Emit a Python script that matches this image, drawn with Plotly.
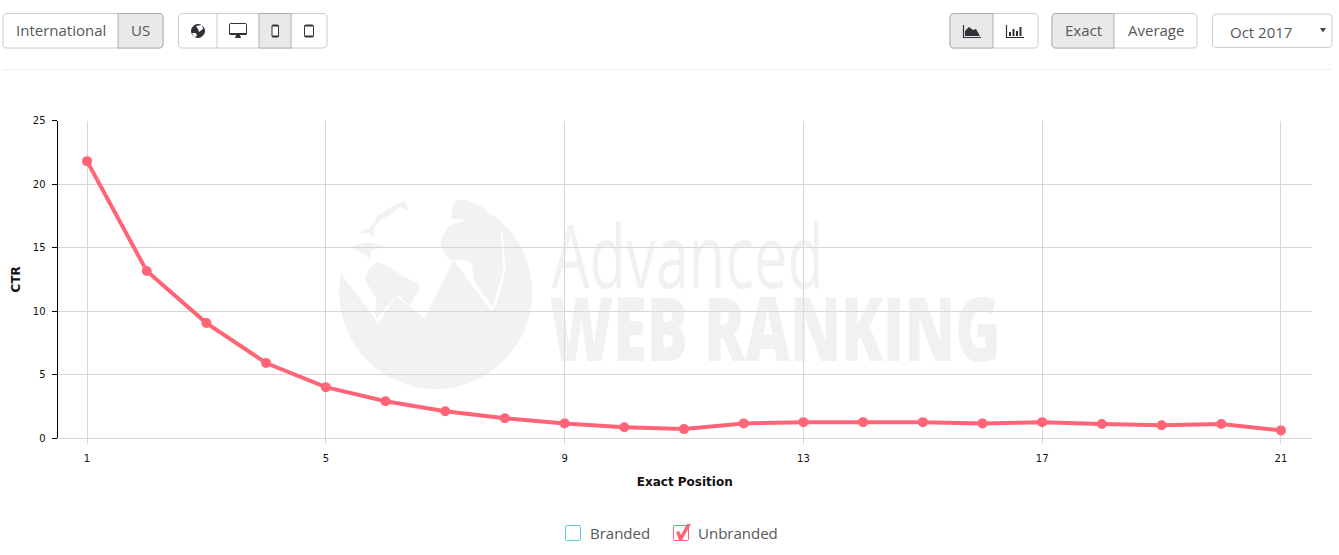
import plotly.graph_objects as go

W, H = 1339, 555

# CTR per exact position
positions = list(range(1, 22))
ctr = [21.8, 13.15, 9.05, 5.9, 4.0, 2.9, 2.1, 1.55, 1.15, 0.85, 0.7,
       1.15, 1.25, 1.25, 1.25, 1.15, 1.25, 1.1, 1.0, 1.1, 0.6]
x_ticks = [1, 5, 9, 13, 17, 21]
y_ticks = [0, 5, 10, 15, 20, 25]

RED = "#ff6577"
BLUE = "#5ccbe8"
GRID = "#d6d6d6"
TEXT = "#55595c"
DARK = "#2f3338"
WM = "#f1f2f4"
WM_TEXT = "rgba(222,224,228,0.45)"
BORDER = "#cccccc"
ACTIVE_BORDER = "#adadad"
ACTIVE_BG = "#e9e9e9"

shapes = []
annotations = []


# the whole page is laid out in pixels, paper coords are just a conversion
def px(x):
    return x / W


def py(y):
    return 1 - y / H


def path(points, fill, line=None, width=1, close=True):
    d = "M " + " L ".join(f"{px(x):.5f},{py(y):.5f}" for x, y in points)
    if close:
        d += " Z"
    shapes.append(dict(type="path", path=d, xref="paper", yref="paper", layer="below",
                       fillcolor=fill if fill else "rgba(0,0,0,0)",
                       line=dict(color=line if line else "rgba(0,0,0,0)", width=width if line else 0)))


def rect(x0, y0, x1, y1, fill, line=None, width=1):
    path([(x0, y0), (x1, y0), (x1, y1), (x0, y1)], fill, line, width)


def rrect(x0, y0, x1, y1, fill, line=None, r=4, left=True, right=True):
    rl = r if left else 0
    rr = r if right else 0
    d = (f"M {px(x0 + rl):.5f},{py(y0):.5f} L {px(x1 - rr):.5f},{py(y0):.5f} "
         f"Q {px(x1):.5f},{py(y0):.5f} {px(x1):.5f},{py(y0 + rr):.5f} "
         f"L {px(x1):.5f},{py(y1 - rr):.5f} "
         f"Q {px(x1):.5f},{py(y1):.5f} {px(x1 - rr):.5f},{py(y1):.5f} "
         f"L {px(x0 + rl):.5f},{py(y1):.5f} "
         f"Q {px(x0):.5f},{py(y1):.5f} {px(x0):.5f},{py(y1 - rl):.5f} "
         f"L {px(x0):.5f},{py(y0 + rl):.5f} "
         f"Q {px(x0):.5f},{py(y0):.5f} {px(x0 + rl):.5f},{py(y0):.5f} Z")
    shapes.append(dict(type="path", path=d, xref="paper", yref="paper", layer="below",
                       fillcolor=fill, line=dict(color=line if line else fill, width=1)))


def circle(cx, cy, r, fill, line=None):
    shapes.append(dict(type="circle", xref="paper", yref="paper", layer="below",
                       x0=px(cx - r), x1=px(cx + r), y0=py(cy + r), y1=py(cy - r),
                       fillcolor=fill, line=dict(color=line if line else fill, width=1)))


def label(x, y, text, size=15, color=TEXT, family="Open Sans", xanchor="center", weight=None):
    font = dict(family=family, size=size, color=color)
    if weight:
        font["weight"] = weight
    annotations.append(dict(x=px(x), y=py(y), xref="paper", yref="paper", text=text,
                            showarrow=False, xanchor=xanchor, yanchor="middle",
                            borderpad=0, font=font))


def button_group(x0, x1, splits, active):
    rrect(x0, 13.5, x1, 48, "#ffffff", BORDER)
    edges = [x0] + splits + [x1]
    a0, a1 = edges[active], edges[active + 1]
    rrect(a0, 13.5, a1, 48, ACTIVE_BG, ACTIVE_BORDER,
          left=active == 0, right=active == len(edges) - 2)
    for s in splits:
        if s not in (a0, a1):
            path([(s, 13.5), (s, 48)], None, BORDER, close=False)


# watermark, sits under the grid
circle(435.7, 292.5, 96, WM)


def zoomed(points):
    return [(335 + x / 3, 195 + y / 3) for x, y in points]


path(zoomed([(12, 228), (130, 383), (185, 305), (268, 370), (355, 195), (470, 350), (486, 322),
             (512, 225), (504, 120), (492, 85), (440, 20), (380, -5), (300, -12), (200, -5),
             (100, 40), (30, 130)]), "#ffffff")
path(zoomed([(350, 72), (350, 45), (362, 15), (395, 15), (440, 35), (490, 80), (498, 102),
             (505, 225), (474, 335), (420, 265), (410, 205), (385, 195), (355, 197),
             (335, 185), (316, 155), (320, 125), (345, 90), (400, 75), (350, 72)]), WM)
path(zoomed([(210, 15), (220, 45), (190, 35), (175, 55), (140, 72), (115, 100), (118, 130),
             (100, 112), (78, 118), (75, 108), (105, 100), (130, 60), (165, 38)]), WM)
path(zoomed([(50, 155), (80, 145), (100, 140), (150, 155), (110, 165), (105, 195),
             (85, 175), (60, 165)]), WM)
path(zoomed([(90, 255), (100, 225), (125, 200), (165, 215), (205, 245), (250, 265), (255, 280),
             (235, 310), (225, 335), (190, 300), (150, 340), (125, 370), (120, 355),
             (125, 310), (105, 280)]), WM)
label(688, 254, "Advanced", 88, WM_TEXT, weight=400)
label(775, 327, "WEB RANKING", 88, WM_TEXT, weight=800)

# top toolbar
button_group(3, 163, [118], 1)
label(61, 30.5, "International")
label(140, 30.5, "US")

button_group(178.5, 327, [217, 259, 291], 2)
circle(198, 31, 6.5, DARK)
path([(196, 26), (202, 25), (203, 29), (199, 32), (198, 29)], "#ffffff")
path([(192, 33), (196, 33), (197, 36), (194, 37)], "#ffffff")
rrect(229.5, 23.5, 246.5, 34.5, "#ffffff", DARK, r=1)
rect(229.5, 33, 246.5, 35, DARK)
path([(236, 35), (240, 35), (241, 38), (235, 38)], DARK)
rrect(272, 25, 278.5, 37, "#ffffff", DARK, r=1)
rect(272, 25, 278.5, 26.5, DARK)
rect(272, 35.5, 278.5, 37, DARK)
rrect(304.5, 25, 313.5, 37, "#ffffff", DARK, r=1.5)
rect(304.5, 25, 313.5, 26.5, DARK)
rect(304.5, 35.5, 313.5, 37, DARK)

button_group(950, 1038, [993], 0)
path([(963.5, 25), (963.5, 37.5), (981, 37.5)], None, DARK, 1.2, close=False)
path([(965, 36), (965, 31), (969, 27), (973, 30), (976, 29), (980, 36)], DARK)
path([(1006.5, 25), (1006.5, 37.5), (1024, 37.5)], None, DARK, 1.2, close=False)
for bx, top in [(1009, 32), (1012.5, 29), (1016, 31), (1019.5, 27)]:
    rect(bx, top, bx + 2, 36, DARK)

button_group(1052, 1197, [1114], 0)
label(1083.5, 30.5, "Exact")
label(1155.5, 30.5, "Average")

rrect(1212.5, 14, 1332, 47.5, "#ffffff", BORDER)
label(1261, 32.5, "Oct 2017")
path([(1320, 28), (1326, 28), (1323, 32.5)], "#444444")

# separator under the toolbar
path([(3, 69.5), (1332, 69.5)], None, "#eeeeee", close=False)

# legend
rrect(565.5, 525.5, 580.5, 540.5, "#ffffff", BLUE, r=1)
label(589, 532.5, "Branded", xanchor="left")
rrect(673.5, 525.5, 688.5, 540.5, "#ffffff", RED, r=1)
path([(676, 532), (679, 531), (681, 535), (687, 524), (691, 524), (682, 540), (679, 540)], RED)
label(697, 532.5, "Unbranded", xanchor="left")

fig = go.Figure(go.Scatter(
    x=positions, y=ctr, mode="lines+markers",
    line=dict(color=RED, width=4),
    marker=dict(color=RED, size=10),
    name="Unbranded",
))

fig.update_layout(
    width=W, height=H, autosize=False,
    margin=dict(l=0, r=0, t=0, b=0),
    paper_bgcolor="#ffffff", plot_bgcolor="rgba(0,0,0,0)",
    showlegend=False,
    font=dict(family="DejaVu Sans", size=10, color="#111111"),
    shapes=shapes, annotations=annotations,
    xaxis=dict(
        domain=[57.5 / W, 1312 / W], range=[0.505, 21.52], tickmode="array", tickvals=x_ticks,
        automargin=False, showgrid=True, gridcolor=GRID, zeroline=False,
        showline=True, linecolor=GRID,
        ticks="outside", ticklen=5, tickcolor=GRID, ticklabelstandoff=6,
        title=dict(text="<b>Exact Position</b>", standoff=14, font=dict(size=12)),
    ),
    yaxis=dict(
        domain=[1 - 438 / H, 1 - 120.5 / H], range=[0, 25], tickmode="array", tickvals=y_ticks,
        automargin=False, showgrid=True, gridcolor=GRID, zeroline=False,
        showline=True, linecolor="#000000",
        ticks="outside", ticklen=5, tickcolor="#000000", ticklabelstandoff=4,
        title=dict(text="<b>CTR</b>", standoff=9, font=dict(size=12)),
    ),
)

# the watermark lettering is condensed, no condensed face here so squeeze it to its width
squeeze = """
document.body.style.margin = '0';
var widths = {'Advanced': 272, 'WEB RANKING': 451};
document.querySelectorAll('.annotation-text').forEach(function (t) {
    if (widths[t.textContent]) {
        t.setAttribute('textLength', widths[t.textContent]);
        t.setAttribute('lengthAdjust', 'spacingAndGlyphs');
    }
});
"""

fig.write_html("out.html", post_script=squeeze, config=dict(displayModeBar=False))
